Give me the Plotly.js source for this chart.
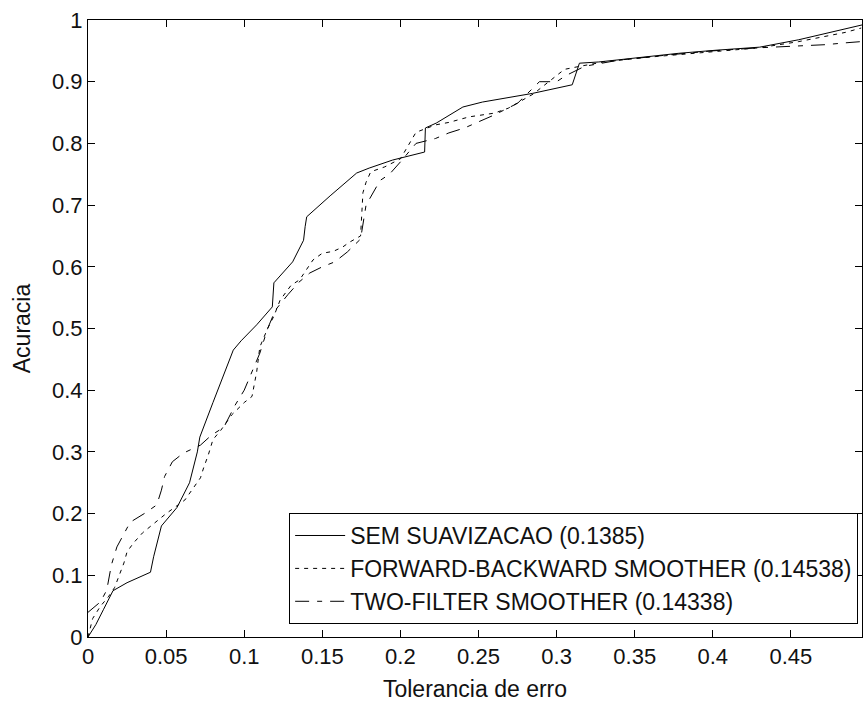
<!DOCTYPE html>
<html>
<head>
<meta charset="utf-8">
<script src="https://cdn.plot.ly/plotly-3.0.1.min.js"></script>
<style>html,body{margin:0;padding:0;background:#fff;}#chart{width:863px;height:707px;}</style>
</head>
<body>
<div id="chart"></div>
<script>
// Series: SEM SUAVIZACAO (solid)
const semX = [0, 0.005, 0.01, 0.016, 0.025, 0.033, 0.040, 0.042, 0.047, 0.057, 0.065, 0.070, 0.0716, 0.08, 0.093, 0.098, 0.108, 0.118, 0.119, 0.131, 0.138, 0.139, 0.140, 0.155, 0.172, 0.180, 0.195, 0.2155, 0.216, 0.223, 0.24, 0.2525, 0.278, 0.2845, 0.310, 0.3146, 0.327, 0.348, 0.378, 0.402, 0.43, 0.455, 0.476, 0.4955];
const semY = [0, 0.02, 0.045, 0.075, 0.088, 0.097, 0.105, 0.13, 0.18, 0.21, 0.25, 0.30, 0.324, 0.38, 0.465, 0.48, 0.506, 0.535, 0.574, 0.608, 0.643, 0.665, 0.681, 0.715, 0.752, 0.76, 0.773, 0.786, 0.825, 0.833, 0.859, 0.867, 0.878, 0.881, 0.895, 0.93, 0.932, 0.938, 0.946, 0.951, 0.956, 0.968, 0.981, 0.992];

// Series: FORWARD-BACKWARD SMOOTHER (dotted)
const fbX = [0, 0.003, 0.008, 0.013, 0.017, 0.0195, 0.023, 0.025, 0.029, 0.035, 0.042, 0.05, 0.062, 0.067, 0.072, 0.074, 0.077, 0.080, 0.085, 0.092, 0.100, 0.105, 0.108, 0.110, 0.115, 0.119, 0.123, 0.130, 0.1355, 0.144, 0.150, 0.157, 0.163, 0.1675, 0.1745, 0.176, 0.178, 0.181, 0.19, 0.2, 0.205, 0.21, 0.2225, 0.231, 0.244, 0.26, 0.269, 0.2775, 0.285, 0.295, 0.305, 0.315, 0.33, 0.36, 0.40, 0.43, 0.455, 0.47, 0.485, 0.495];
const fbY = [0, 0.03, 0.05, 0.065, 0.08, 0.097, 0.12, 0.138, 0.152, 0.169, 0.183, 0.2, 0.222, 0.24, 0.258, 0.274, 0.295, 0.32, 0.335, 0.36, 0.38, 0.39, 0.43, 0.47, 0.5, 0.52, 0.546, 0.57, 0.579, 0.611, 0.622, 0.625, 0.632, 0.64, 0.65, 0.72, 0.737, 0.754, 0.762, 0.775, 0.797, 0.818, 0.83, 0.834, 0.843, 0.849, 0.857, 0.869, 0.88, 0.9, 0.92, 0.925, 0.932, 0.94, 0.948, 0.955, 0.965, 0.972, 0.98, 0.987];

// Series: TWO-FILTER SMOOTHER (dash-dot)
const tfX = [0, 0.005, 0.008, 0.012, 0.015, 0.0185, 0.0225, 0.027, 0.036, 0.044, 0.047, 0.049, 0.054, 0.061, 0.072, 0.079, 0.087, 0.094, 0.100, 0.105, 0.110, 0.115, 0.120, 0.128, 0.135, 0.142, 0.150, 0.158, 0.166, 0.1745, 0.178, 0.187, 0.193, 0.2, 0.21, 0.2225, 0.231, 0.241, 0.249, 0.26, 0.275, 0.289, 0.3, 0.306, 0.318, 0.34, 0.37, 0.40, 0.43, 0.457, 0.472, 0.485, 0.495];
const tfY = [0.04, 0.05, 0.057, 0.076, 0.117, 0.146, 0.165, 0.186, 0.2, 0.214, 0.238, 0.26, 0.284, 0.298, 0.311, 0.327, 0.34, 0.375, 0.40, 0.43, 0.46, 0.5, 0.53, 0.555, 0.575, 0.59, 0.6, 0.608, 0.624, 0.645, 0.70, 0.74, 0.75, 0.77, 0.80, 0.808, 0.817, 0.825, 0.834, 0.846, 0.865, 0.9, 0.9, 0.91, 0.925, 0.935, 0.943, 0.95, 0.955, 0.958, 0.96, 0.963, 0.965];

const seriesNames = ["SEM SUAVIZACAO (0.1385)", "FORWARD-BACKWARD SMOOTHER (0.14538)", "TWO-FILTER SMOOTHER (0.14338)"];
const xTickVals = [0, 0.05, 0.1, 0.15, 0.2, 0.25, 0.3, 0.35, 0.4, 0.45];
const xTickText = ["0", "0.05", "0.1", "0.15", "0.2", "0.25", "0.3", "0.35", "0.4", "0.45"];
const yTickVals = [0, 0.1, 0.2, 0.3, 0.4, 0.5, 0.6, 0.7, 0.8, 0.9, 1];
const yTickText = ["0", "0.1", "0.2", "0.3", "0.4", "0.5", "0.6", "0.7", "0.8", "0.9", "1"];

const FONT = "Arial, 'Liberation Sans', Helvetica, sans-serif";
const INK = "#111";

const traces = [
  {x: semX, y: semY, name: seriesNames[0], mode: "lines", line: {color: "#000", width: 1, dash: "solid"}},
  {x: fbX, y: fbY, name: seriesNames[1], mode: "lines", line: {color: "#000", width: 1, dash: "4px,5px"}},
  {x: tfX, y: tfY, name: seriesNames[2], mode: "lines", line: {color: "#000", width: 1, dash: "14px,8px,5px,8px"}}
];

const axisCommon = {
  showgrid: false, zeroline: false, showline: true, linecolor: "#000", linewidth: 1,
  mirror: "ticks", ticks: "inside", ticklen: 7, tickcolor: "#000", tickwidth: 1,
  tickfont: {family: FONT, size: 22, color: INK}
};

const layout = {
  width: 863, height: 707,
  margin: {l: 88, r: 1, t: 20, b: 70},
  paper_bgcolor: "#fff", plot_bgcolor: "#fff",
  font: {family: FONT, color: INK, size: 22},
  showlegend: true,
  legend: {
    x: 0.995, y: 0.021, xanchor: "right", yanchor: "bottom",
    bgcolor: "#fff", bordercolor: "#000", borderwidth: 1,
    font: {family: FONT, size: 23, color: INK},
    itemwidth: 50,
    tracegroupgap: 0
  },
  xaxis: Object.assign({}, axisCommon, {
    range: [0, 0.4955], tickvals: xTickVals, ticktext: xTickText,
    title: {text: "Tolerancia de erro", font: {family: FONT, size: 23, color: INK}, standoff: 12}
  }),
  yaxis: Object.assign({}, axisCommon, {
    range: [0, 1], tickvals: yTickVals, ticktext: yTickText,
    title: {text: "Acuracia", font: {family: FONT, size: 23, color: INK}, standoff: 14}
  })
};

Plotly.newPlot("chart", traces, layout, {displayModeBar: false, staticPlot: true});
</script>
</body>
</html>
